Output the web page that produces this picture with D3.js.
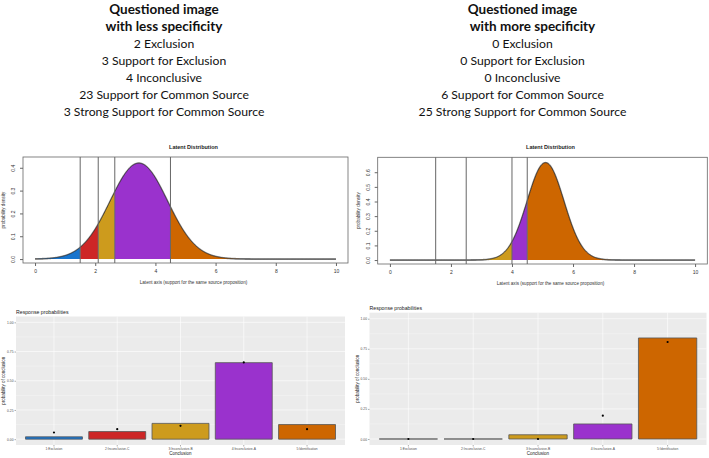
<!DOCTYPE html>
<html>
<head>
<meta charset="utf-8">
<script src="https://cdn.jsdelivr.net/npm/d3@7"></script>
<style>
  body { margin: 0; background: #fff; }
  svg { display: block; }
</style>
</head>
<body>
<div id="chart"></div>
<script>
// Two side-by-side panels: latent distribution (base R look) and response probabilities (ggplot look)

const conclusions = ['1:Exclusion', '2:Inconclusive-C', '3:Inconclusive-B', '4:Inconclusive-A', '5:Identification'];
const conclusionColors = ['#1874CD', '#CD2626', '#CD9B1D', '#9A32CD', '#CD6600'];
const countLabels = ['Exclusion', 'Support for Exclusion', 'Inconclusive', 'Support for Common Source', 'Strong Support for Common Source'];

// observed counts per conclusion
const lessCounts = [2, 3, 4, 23, 3];
const moreCounts = [0, 0, 0, 6, 25];

// model response probabilities (bars)
const lessProbs = [0.02, 0.065, 0.135, 0.655, 0.125];
const moreProbs = [0.0, 0.0, 0.035, 0.125, 0.84];

// latent normal distribution and thresholds
const latentMeans = [3.45, 5.1];
const latentSds = [0.95, 0.6];
const lessThresholds = [1.5, 2.1, 2.65, 4.5];
const moreThresholds = [1.5, 2.5, 4.0, 4.5];
const latentYMax = [0.43, 0.675];
const lessDensityTicks = [0, 0.1, 0.2, 0.3, 0.4];
const moreDensityTicks = [0, 0.1, 0.2, 0.3, 0.4, 0.5, 0.6];
const latentXTicks = [0, 2, 4, 6, 8, 10];
const probTicks = [0, 0.25, 0.5, 0.75, 1];

const W = 709, H = 458;
const svg = d3.select('#chart').append('svg')
  .attr('width', W).attr('height', H)
  .style('font-family', 'Liberation Sans, Arial, sans-serif');

svg.append('rect').attr('width', W).attr('height', H).attr('fill', '#fff');

// ---------- header text ----------
function drawHeader(cx, subtitle, subDx, counts) {
  const lines = [
    { t: 'Questioned image', bold: true, dx: 0 },
    { t: subtitle, bold: true, dx: subDx }
  ].concat(counts.map((c, i) => ({ t: c + ' ' + countLabels[i], bold: false, dx: 0 })));

  svg.append('g').selectAll('text')
    .data(lines)
    .enter().append('text')
    .attr('x', d => cx + d.dx)
    .attr('y', (d, i) => 14 + i * 17)
    .attr('text-anchor', 'middle')
    .style('font-family', 'Lato, sans-serif')
    .style('font-size', d => d.bold ? '13.5px' : '12.2px')
    .style('font-weight', d => d.bold ? 700 : 400)
    .style('fill', '#111')
    .text(d => d.t);
}

drawHeader(164, 'with less specificity', 0, lessCounts);
drawHeader(522.5, 'with more specificity', 10, moreCounts);

// ---------- latent distribution ----------
function normPdf(x, m, s) {
  return Math.exp(-0.5 * ((x - m) / s) ** 2) / (s * Math.sqrt(2 * Math.PI));
}

function drawLatent(box, mean, sd, thresholds, yMax, yTicks) {
  const g = svg.append('g');
  const xs = d3.scaleLinear().domain([-0.4, 10.4]).range([box.left, box.right]);
  const ys = d3.scaleLinear().domain([-0.04 * yMax, 1.04 * yMax]).range([box.bottom, box.top]);

  const grid = d3.range(0, 10.0001, 0.02);
  const line = d3.line().x(d => xs(d)).y(d => ys(normPdf(d, mean, sd)));

  // full curve, grey
  g.append('path').datum(grid)
    .attr('d', line)
    .attr('fill', 'none')
    .attr('stroke', '#9a9a9a')
    .attr('stroke-width', 1.8);

  // coloured regions between thresholds
  const edges = [0].concat(thresholds, [10]);
  const area = d3.area().x(d => xs(d)).y0(ys(0)).y1(d => ys(normPdf(d, mean, sd)));
  for (let i = 0; i < edges.length - 1; i++) {
    const pts = grid.filter(x => x >= edges[i] && x <= edges[i + 1]);
    pts.unshift(edges[i]);
    pts.push(edges[i + 1]);
    g.append('path').datum(pts)
      .attr('d', area)
      .attr('fill', conclusionColors[i]);
    g.append('path').datum(pts)
      .attr('d', line)
      .attr('fill', 'none')
      .attr('stroke', '#222')
      .attr('stroke-width', 0.7);
  }

  // threshold lines
  g.selectAll('.thr').data(thresholds).enter().append('line')
    .attr('x1', d => xs(d)).attr('x2', d => xs(d))
    .attr('y1', box.top).attr('y2', box.bottom)
    .attr('stroke', '#666')
    .attr('stroke-width', 1);

  // box
  g.append('rect')
    .attr('x', box.left).attr('y', box.top)
    .attr('width', box.right - box.left).attr('height', box.bottom - box.top)
    .attr('fill', 'none').attr('stroke', '#666').attr('stroke-width', 0.8);

  // x axis
  const xAxis = g.append('g').attr('transform', `translate(0,${box.bottom})`)
    .call(d3.axisBottom(xs).tickValues(latentXTicks).tickSize(3).tickPadding(3).tickFormat(d3.format('d')));
  xAxis.select('.domain').remove();
  xAxis.selectAll('line').attr('stroke', '#666');
  xAxis.selectAll('text').style('font-size', '5px').style('fill', '#333')
    .style('font-family', 'Liberation Sans, Arial, sans-serif');

  // y axis with rotated labels
  const yAxis = g.append('g').attr('transform', `translate(${box.left},0)`)
    .call(d3.axisLeft(ys).tickValues(yTicks).tickSize(3).tickFormat(d3.format('.1f')));
  yAxis.select('.domain').remove();
  yAxis.selectAll('line').attr('stroke', '#666');
  yAxis.selectAll('text')
    .attr('x', 0).attr('dy', null)
    .attr('text-anchor', 'middle')
    .attr('transform', 'translate(-8,0) rotate(-90)')
    .style('font-size', '5px').style('fill', '#333')
    .style('font-family', 'Liberation Sans, Arial, sans-serif');

  g.append('text')
    .attr('x', (box.left + box.right) / 2 + 8).attr('y', box.top - 8)
    .attr('text-anchor', 'middle')
    .style('font-size', '5.5px').style('font-weight', 700).style('fill', '#222')
    .text('Latent Distribution');

  g.append('text')
    .attr('x', (box.left + box.right) / 2 + 8).attr('y', box.bottom + 21)
    .attr('text-anchor', 'middle')
    .style('font-size', '4.6px').style('fill', '#333')
    .text('Latent axis (support for the same source proposition)');

  g.append('text')
    .attr('transform', `translate(${box.left - 18},${(box.top + box.bottom) / 2}) rotate(-90)`)
    .attr('text-anchor', 'middle')
    .style('font-size', '4.6px').style('fill', '#333')
    .text('probability density');
}

drawLatent({ left: 23, right: 348, top: 157, bottom: 263 },
  latentMeans[0], latentSds[0], lessThresholds, latentYMax[0], lessDensityTicks);
drawLatent({ left: 377.7, right: 707.3, top: 157.3, bottom: 264 },
  latentMeans[1], latentSds[1], moreThresholds, latentYMax[1], moreDensityTicks);

// ---------- response probabilities ----------
function drawBars(panel, probs, counts) {
  const g = svg.append('g');
  const total = d3.sum(counts);
  const xs = d3.scaleBand().domain(conclusions).range([panel.left, panel.right])
    .paddingInner(0.1).paddingOuter(0.15);
  const ys = d3.scaleLinear().domain([-0.05, 1.05]).range([panel.bottom, panel.top]);

  g.append('rect')
    .attr('x', panel.left).attr('y', panel.top)
    .attr('width', panel.right - panel.left).attr('height', panel.bottom - panel.top)
    .attr('fill', '#EBEBEB');

  // minor grid
  const minor = probTicks.slice(0, -1).map(d => d + 0.125);
  g.selectAll('.minor').data(minor).enter().append('line')
    .attr('x1', panel.left).attr('x2', panel.right)
    .attr('y1', d => ys(d)).attr('y2', d => ys(d))
    .attr('stroke', '#fff').attr('stroke-width', 0.3);
  // major grid
  g.selectAll('.major').data(probTicks).enter().append('line')
    .attr('x1', panel.left).attr('x2', panel.right)
    .attr('y1', d => ys(d)).attr('y2', d => ys(d))
    .attr('stroke', '#fff').attr('stroke-width', 0.6);
  g.selectAll('.vgrid').data(conclusions).enter().append('line')
    .attr('x1', d => xs(d) + xs.bandwidth() / 2).attr('x2', d => xs(d) + xs.bandwidth() / 2)
    .attr('y1', panel.top).attr('y2', panel.bottom)
    .attr('stroke', '#fff').attr('stroke-width', 0.6);

  // bars drawn as closed paths so zero-height bars still show their outline
  g.selectAll('.bar').data(probs).enter().append('path')
    .attr('d', (d, i) => {
      const x0 = xs(conclusions[i]), x1 = x0 + xs.bandwidth();
      const y0 = ys(0), y1 = ys(d);
      return `M${x0},${y0}L${x1},${y0}L${x1},${y1}L${x0},${y1}Z`;
    })
    .attr('fill', (d, i) => conclusionColors[i])
    .attr('stroke', '#555')
    .attr('stroke-width', 0.8);

  // observed proportions
  g.selectAll('.pt').data(counts).enter().append('circle')
    .attr('cx', (d, i) => xs(conclusions[i]) + xs.bandwidth() / 2)
    .attr('cy', d => ys(d / total))
    .attr('r', 1.1)
    .attr('fill', '#000');

  // axes
  const xAxis = g.append('g').attr('transform', `translate(0,${panel.bottom})`)
    .call(d3.axisBottom(xs).tickSize(1.5).tickPadding(1));
  xAxis.select('.domain').remove();
  xAxis.selectAll('line').attr('stroke', '#333').attr('stroke-width', 0.4);
  xAxis.selectAll('text').style('font-size', '3.3px').style('fill', '#4d4d4d')
    .style('font-family', 'Liberation Sans, Arial, sans-serif');

  const yAxis = g.append('g').attr('transform', `translate(${panel.left},0)`)
    .call(d3.axisLeft(ys).tickValues(probTicks).tickSize(1.5).tickPadding(1).tickFormat(d3.format('.2f')));
  yAxis.select('.domain').remove();
  yAxis.selectAll('line').attr('stroke', '#333').attr('stroke-width', 0.4);
  yAxis.selectAll('text').style('font-size', '3.3px').style('fill', '#4d4d4d')
    .style('font-family', 'Liberation Sans, Arial, sans-serif');

  g.append('text')
    .attr('x', panel.left).attr('y', panel.top - 3)
    .style('font-size', '5.2px').style('fill', '#222')
    .text('Response probabilities');

  g.append('text')
    .attr('x', (panel.left + panel.right) / 2).attr('y', panel.bottom + 9.5)
    .attr('text-anchor', 'middle')
    .style('font-size', '4.5px').style('fill', '#222')
    .text('Conclusion');

  g.append('text')
    .attr('transform', `translate(${panel.left - 11},${(panel.top + panel.bottom) / 2}) rotate(-90)`)
    .attr('text-anchor', 'middle')
    .style('font-size', '4.5px').style('fill', '#222')
    .text('probability of conclusion');
}

drawBars({ left: 16, right: 345, top: 316.5, bottom: 445 }, lessProbs, lessCounts);
drawBars({ left: 369.5, right: 706.5, top: 312.7, bottom: 445 }, moreProbs, moreCounts);
</script>
</body>
</html>
